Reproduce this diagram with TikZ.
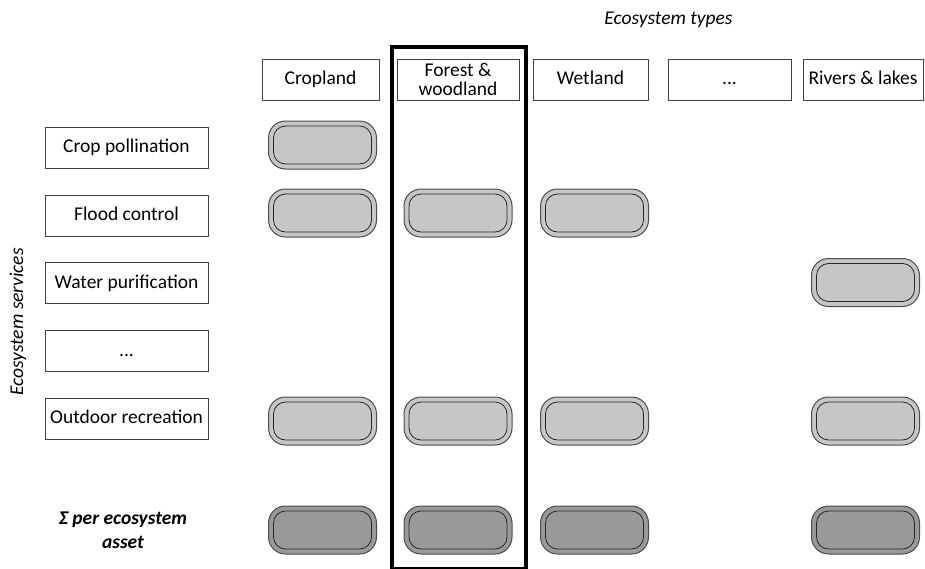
\documentclass[tikz,border=0pt]{standalone}
\usepackage{fontspec}
\setmainfont{Carlito}
\begin{document}
\begin{tikzpicture}[x=1pt,y=-1pt,
  font=\fontsize{19.5}{22}\selectfont,
  hdr/.style={draw=black!75, line width=0.8pt, fill=white, align=center, inner sep=0pt},
  svc/.style={draw=black!75, line width=0.8pt, fill=white, minimum width=163pt, minimum height=41pt, inner sep=0pt, text height=13.5pt, text depth=3.5pt},
  pill/.style={draw=black!70, line width=1pt, fill=#1, rounded corners=17pt, minimum width=108pt, minimum height=48pt, inner sep=0pt,
    path picture={\draw[black!85, line width=0.8pt, rounded corners=12pt]
      ([xshift=5pt,yshift=-5pt]path picture bounding box.north west) rectangle
      ([xshift=-5pt,yshift=5pt]path picture bounding box.south east);}},
  pill/.default={gray!45}
]
\useasboundingbox (0,0) rectangle (925,568);

% axis titles
\node[font=\fontsize{19.5}{22}\selectfont\itshape] (ttypes) at (668.5,20) {Ecosystem types};
\node[font=\fontsize{19.5}{22}\selectfont\itshape, rotate=90] (tserv) at (18,322) {Ecosystem services};

% column headers
\node[hdr, minimum width=117pt, minimum height=41pt, text height=13.5pt, text depth=3.5pt] (hcrop) at (320.5,79.5) {Cropland};
\node[hdr, minimum width=122pt, minimum height=41pt] (hforest) at (458,79.5) {Forest \&\\[-3pt] woodland};
\node[hdr, minimum width=115pt, minimum height=41pt, text height=13.5pt, text depth=3.5pt] (hwet) at (590.5,79.5) {Wetland};
\node[hdr, minimum width=123pt, minimum height=41pt, text height=13.5pt, text depth=3.5pt] (hdots) at (729.5,79.5) {...};
\node[hdr, minimum width=120pt, minimum height=41pt, text height=13.5pt, text depth=3.5pt] (hriv) at (863,79.5) {Rivers \& lakes};

% service rows
\node[svc] (sPoll) at (126.5,147.5) {Crop pollination};
\node[svc] (sFlood) at (126.5,215.5) {Flood control};
\node[svc] (sWater) at (126.5,283) {Water purification};
\node[svc] (sDots) at (126.5,351) {...};
\node[svc] (sRec) at (126.5,418.5) {Outdoor recreation};
\node[font=\fontsize{19.5}{24}\selectfont\bfseries\itshape, align=center] (sSum) at (123,530) {Σ per ecosystem\\asset};

% pills
\node[pill] (p11) at (322.5,145) {};
\node[pill] (p21) at (322.5,213) {};
\node[pill] (p22) at (458,213) {};
\node[pill] (p23) at (594.5,213) {};
\node[pill] (p35) at (865.5,282.5) {};
\node[pill] (p51) at (322.5,421) {};
\node[pill] (p52) at (458,421) {};
\node[pill] (p53) at (594.5,421) {};
\node[pill] (p55) at (865.5,421) {};
\node[pill=gray!80] (q1) at (322.5,530) {};
\node[pill=gray!80] (q2) at (458,530) {};
\node[pill=gray!80] (q3) at (594.5,530) {};
\node[pill=gray!80] (q5) at (865.5,530) {};

% highlight frame
\draw[line width=4pt, black] (392,47) rectangle (526,568.5);
\end{tikzpicture}
\end{document}
